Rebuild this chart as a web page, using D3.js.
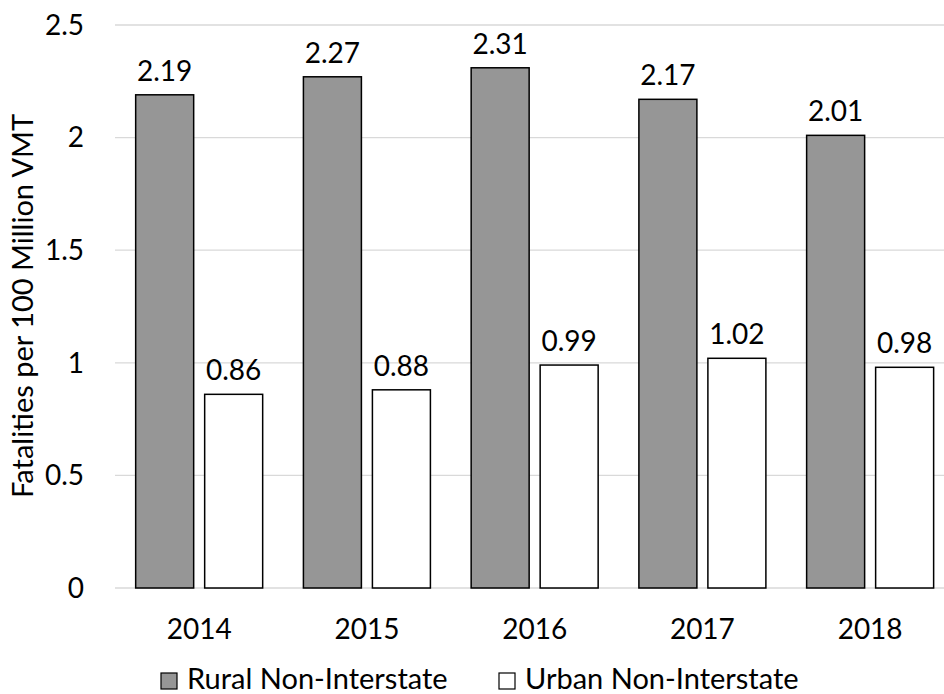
<!DOCTYPE html>
<html>
<head>
<meta charset="utf-8">
<script src="https://cdn.jsdelivr.net/npm/d3@7"></script>
<style>
  html, body { margin: 0; padding: 0; background: #fff; }
  svg { display: block; font-family: Lato, "Open Sans", sans-serif; }
</style>
</head>
<body>
<svg id="chart" width="944" height="694"></svg>
<script>
// Fatality rates on non-interstate roads, 2014–2018
const years = ["2014", "2015", "2016", "2017", "2018"];
const rural = [2.19, 2.27, 2.31, 2.17, 2.01];
const urban = [0.86, 0.88, 0.99, 1.02, 0.98];
const seriesNames = ["Rural Non-Interstate", "Urban Non-Interstate"];
const seriesFills = ["#969696", "#ffffff"];
const yTicks = [0, 0.5, 1, 1.5, 2, 2.5];

const svg = d3.select("#chart");
const fontSize = 28;      // numbers
const wordSize = 29;      // title and legend

const y = d3.scaleLinear().domain([0, 2.5]).range([588, 25]);
const x = d3.scaleBand().domain(years).range([115.3, 954]).paddingInner(0).paddingOuter(0);
const barW = 58, gap = 11;
const groupW = barW * 2 + gap;

// gridlines
svg.append("g").selectAll("line").data(yTicks).join("line")
  .attr("x1", 115).attr("x2", 944)
  .attr("y1", d => y(d)).attr("y2", d => y(d))
  .attr("stroke", "#d9d9d9").attr("stroke-width", 1.3);

// y tick labels
svg.append("g").selectAll("text").data(yTicks).join("text")
  .attr("x", 84).attr("y", d => y(d))
  .attr("dy", "0.35em").attr("text-anchor", "end")
  .attr("font-size", fontSize).attr("fill", "#000")
  .text(d => d);

// y axis title
svg.append("text")
  .attr("transform", "translate(33,306) rotate(-90)")
  .attr("text-anchor", "middle")
  .attr("font-size", wordSize).attr("fill", "#000")
  .text("Fatalities per 100 Million VMT");

const series = [rural, urban];
series.forEach((vals, si) => {
  const g = svg.append("g");
  const xOff = d => x(d) + (x.bandwidth() - groupW) / 2 + si * (barW + gap);
  g.selectAll("rect").data(years).join("rect")
    .attr("x", d => xOff(d))
    .attr("y", (d, i) => y(vals[i]))
    .attr("width", barW)
    .attr("height", (d, i) => y(0) - y(vals[i]))
    .attr("fill", seriesFills[si])
    .attr("stroke", "#000").attr("stroke-width", 1.5);
  g.selectAll("text").data(years).join("text")
    .attr("x", d => xOff(d) + barW / 2)
    .attr("y", (d, i) => y(vals[i]) - 14)
    .attr("text-anchor", "middle")
    .attr("font-size", fontSize).attr("fill", "#000")
    .text((d, i) => vals[i].toFixed(2));
});

// x category labels
svg.append("g").selectAll("text").data(years).join("text")
  .attr("x", d => x(d) + x.bandwidth() / 2)
  .attr("y", 639)
  .attr("text-anchor", "middle")
  .attr("font-size", fontSize).attr("fill", "#000")
  .text(d => d);

// legend
const legendX = [161, 499];
const leg = svg.append("g");
seriesNames.forEach((name, i) => {
  leg.append("rect")
    .attr("x", legendX[i]).attr("y", 673)
    .attr("width", 16).attr("height", 16)
    .attr("fill", seriesFills[i]).attr("stroke", "#000").attr("stroke-width", 1.2);
  leg.append("text")
    .attr("x", legendX[i] + 26).attr("y", 689)
    .attr("font-size", wordSize).attr("fill", "#000")
    .text(name);
});
</script>
</body>
</html>
